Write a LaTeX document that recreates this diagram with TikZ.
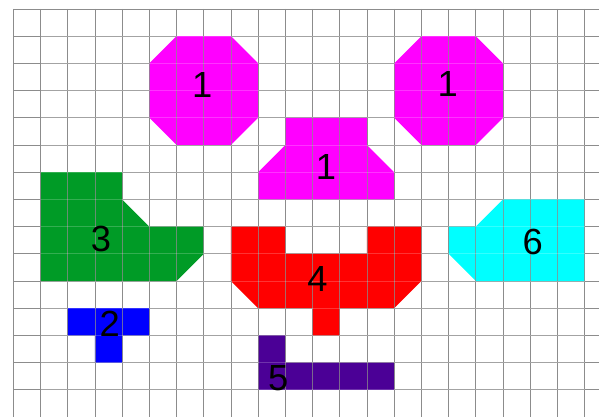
\documentclass[tikz,border=0pt]{standalone}
\usepackage{fontspec}
\setmainfont{Liberation Sans}
\definecolor{pieceMagenta}{RGB}{255,0,255}
\definecolor{pieceGreen}{RGB}{0,155,38}
\definecolor{pieceBlue}{RGB}{0,0,255}
\definecolor{pieceRed}{RGB}{255,0,0}
\definecolor{piecePurple}{RGB}{75,0,150}
\definecolor{pieceCyan}{RGB}{0,255,255}
\definecolor{gridGray}{RGB}{140,140,140}

\begin{document}
\begin{tikzpicture}[x=1cm, y=-1cm,
        gridline/.style={draw=gridGray, line width=0.8pt},
        lbl/.style={font=\fontsize{38}{40}\selectfont, inner sep=0pt, text=black},
    ]
    \useasboundingbox (-0.49,-0.33) rectangle (21.53,15.0);
    % grid
    \foreach \c in {0,...,21}
        \draw[gridline] (\c,0) -- (\c,15.0);
    \foreach \r in {0,...,14}
        \draw[gridline] (0,\r) -- (21.53,\r);
    % pieces
    \fill[pieceMagenta] (6,1) -- (8,1) -- (9,2) -- (9,4) -- (8,5) -- (6,5) -- (5,4) -- (5,2) -- cycle;
    \fill[pieceMagenta] (15,1) -- (17,1) -- (18,2) -- (18,4) -- (17,5) -- (15,5) -- (14,4) -- (14,2) -- cycle;
    \fill[pieceMagenta] (9,7) -- (9,6) -- (10,5) -- (10,4) -- (13,4) -- (13,5) -- (14,6) -- (14,7) -- cycle;
    \fill[pieceGreen] (1,6) -- (4,6) -- (4,7) -- (5,8) -- (7,8) -- (7,9) -- (6,10) -- (1,10) -- cycle;
    \fill[pieceBlue] (2,11) -- (5,11) -- (5,12) -- (4,12) -- (4,13) -- (3,13) -- (3,12) -- (2,12) -- cycle;
    \fill[pieceRed] (8,8) -- (10,8) -- (10,9) -- (13,9) -- (13,8) -- (15,8) -- (15,10) -- (14,11)
        -- (12,11) -- (12,12) -- (11,12) -- (11,11) -- (9,11) -- (8,10) -- cycle;
    \fill[piecePurple] (9,12) -- (10,12) -- (10,13) -- (14,13) -- (14,14) -- (9,14) -- cycle;
    \fill[pieceCyan] (18,7) -- (21,7) -- (21,10) -- (17,10) -- (16,9) -- (16,8) -- (17,8) -- cycle;
    % grid seen through the pieces
    \foreach \c in {1,...,21}
        \draw[gridline, draw opacity=0.75] (\c,1) -- (\c,14);
    \foreach \r in {1,...,14}
        \draw[gridline, draw=white, draw opacity=0.2] (1,\r) -- (21,\r);
    % labels
    \node[lbl] (octL) at (6.94,2.79) {1};
    \node[lbl] (octR) at (15.97,2.76) {1};
    \node[lbl] (trap) at (11.49,5.80) {1};
    \node[lbl] (green) at (3.22,8.45) {3};
    \node[lbl] (blue) at (3.54,11.57) {2};
    \node[lbl] (purple) at (9.74,13.57) {5};
    \node[lbl] (red) at (11.18,9.92) {4};
    \node[lbl] (cyan) at (19.09,8.55) {6};
\end{tikzpicture}
\end{document}
